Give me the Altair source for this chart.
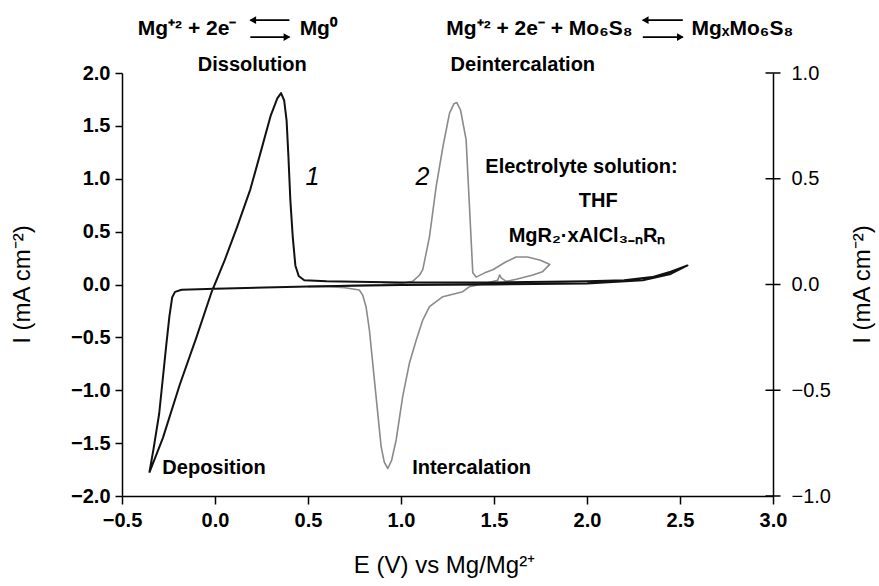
import altair as alt
import pandas as pd

# ---- Curve 1: Mg deposition / dissolution (black) ----
c1_E = [-0.353, -0.28, -0.19, -0.10, -0.02, 0.05, 0.12, 0.19, 0.25, 0.30, 0.335, 0.355,
        0.372, 0.385, 0.395, 0.405, 0.418, 0.432, 0.45, 0.48, 0.6, 1.0, 1.5, 2.0, 2.2,
        2.35, 2.45, 2.54, 2.45, 2.3, 2.0, 1.5, 1.0, 0.5, 0.0, -0.18, -0.215, -0.23,
        -0.245, -0.263, -0.30, -0.33, -0.353]
c1_I = [-1.78, -1.45, -0.95, -0.50, -0.08, 0.22, 0.55, 0.90, 1.28, 1.60, 1.76, 1.81,
        1.74, 1.55, 1.20, 0.80, 0.45, 0.18, 0.08, 0.04, 0.03, 0.02, 0.02, 0.03, 0.04,
        0.07, 0.12, 0.18, 0.10, 0.04, 0.01, 0.0, -0.005, -0.02, -0.04, -0.05, -0.07, -0.12,
        -0.30, -0.59, -1.22, -1.55, -1.78]

# ---- Curve 2: Mo6S8 intercalation / deintercalation (grey) ----
c2_E = [0.50, 0.70, 0.90, 1.00, 1.063, 1.10, 1.117, 1.153, 1.189, 1.225, 1.261, 1.285,
        1.30, 1.32, 1.35, 1.368, 1.386, 1.404, 1.45, 1.494, 1.56, 1.619, 1.68, 1.75, 1.80,
        1.76, 1.709, 1.62, 1.566, 1.54, 1.53, 1.52, 1.45, 1.368, 1.332, 1.225, 1.153,
        1.117, 1.082, 1.045, 1.009, 0.974, 0.95, 0.929, 0.91, 0.893, 0.866, 0.848, 0.83,
        0.812, 0.794, 0.776, 0.70, 0.615, 0.50]
c2_I = [-0.02, -0.01, 0.0, 0.01, 0.03, 0.09, 0.14, 0.45, 0.925, 1.30, 1.62, 1.71,
        1.72, 1.65, 1.37, 0.74, 0.11, 0.07, 0.11, 0.14, 0.21, 0.26, 0.26, 0.23, 0.19,
        0.12, 0.09, 0.05, 0.03, 0.06, 0.09, 0.04, 0.01, -0.02, -0.068, -0.115, -0.21,
        -0.336, -0.525, -0.745, -1.06, -1.47, -1.66, -1.74, -1.68, -1.53, -1.06, -0.745, -0.43,
        -0.21, -0.10, -0.052, -0.03, -0.02, -0.02]

x_ticks = [-0.5, 0.0, 0.5, 1.0, 1.5, 2.0, 2.5, 3.0]
y_ticks = [-2.0, -1.5, -1.0, -0.5, 0.0, 0.5, 1.0, 1.5, 2.0]
y2_ticks = [-1.0, -0.5, 0.0, 0.5, 1.0]

# reaction equations: left parts (right-aligned), right parts (left-aligned)
eq_left_text = ["Mg⁺² + 2e⁻", "Mg⁺² + 2e⁻ + Mo₆S₈"]
eq_left_E = [0.115, 2.245]
eq_right_text = ["Mg⁰", "MgₓMo₆S₈"]
eq_right_E = [0.455, 2.562]
eq_I = [2.416, 2.416]
# equilibrium arrows: shafts (from, to, level) and heads
arrow_E1 = [0.19, 0.19, 2.30, 2.30]
arrow_E2 = [0.40, 0.40, 2.515, 2.515]
arrow_I = [2.50, 2.34, 2.50, 2.34]
head_E = [0.203, 0.387, 2.313, 2.502]
head_shape = ["triangle-left", "triangle-right", "triangle-left", "triangle-right"]

# annotations (centered, bold)
ann_c_text = ["Dissolution", "Deintercalation", "Electrolyte solution:", "THF",
              "MgR₂·xAlCl₃₋ₙRₙ"]
ann_c_E = [0.20, 1.655, 1.97, 2.06, 2.0]
ann_c_I = [2.076, 2.076, 1.11, 0.79, 0.46]
# annotations (left aligned, bold)
ann_l_text = ["Deposition", "Intercalation"]
ann_l_E = [-0.283, 1.06]
ann_l_I = [-1.735, -1.735]
# curve numbers (italic)
num_text = ["1", "2"]
num_E = [0.524, 1.115]
num_I = [1.017, 1.017]

df1 = pd.DataFrame({"E": c1_E, "I": c1_I, "idx": range(len(c1_E))})
df2 = pd.DataFrame({"E": c2_E, "I": c2_I, "idx": range(len(c2_E))})
dfc = pd.DataFrame({"E": ann_c_E, "I": ann_c_I, "t": ann_c_text})
dfl = pd.DataFrame({"E": ann_l_E, "I": ann_l_I, "t": ann_l_text})
dfn = pd.DataFrame({"E": num_E, "I": num_I, "t": num_text})
dfeql = pd.DataFrame({"E": eq_left_E, "I": eq_I, "t": eq_left_text})
dfeqr = pd.DataFrame({"E": eq_right_E, "I": eq_I, "t": eq_right_text})
dfarr = pd.DataFrame({"E1": arrow_E1, "E2": arrow_E2, "I": arrow_I,
                      "H": head_E, "shape": head_shape})
dfr = pd.DataFrame({"v": y2_ticks})

FONT = "Liberation Sans"
xscale = alt.Scale(domain=[-0.5, 3.0], nice=False, zero=False)
yscale = alt.Scale(domain=[-2.0, 2.0], nice=False, zero=False)
y2scale = alt.Scale(domain=[-1.0, 1.0], nice=False, zero=False)

common = dict(grid=False, format=".1f", labelFont=FONT, titleFont=FONT,
              domainColor="black", tickColor="black", domainWidth=1.5, tickWidth=1.5,
              labelColor="black", titleColor="black", labelFlush=False,
              titleFontWeight="normal", titleAlign="center", titleBaseline="middle")

x_axis = alt.Axis(values=x_ticks, tickSize=8, labelPadding=6,
                  labelFontSize=20, labelFontWeight="bold",
                  title="E (V) vs Mg/Mg²⁺", titleFontSize=24, titleX=322, titleY=69, **common)
y_axis = alt.Axis(values=y_ticks, tickSize=7, labelPadding=5,
                  labelFontSize=20, labelFontWeight="bold",
                  title="I (mA cm⁻²)", titleFontSize=24, titleX=-100, titleY=211,
                  titleAngle=270, **common)
y2_axis = alt.Axis(values=y2_ticks, orient="right", ticks=False, labelPadding=18,
                   labelFontSize=20, labelFontWeight="normal",
                   title="I (mA cm⁻²)", titleFontSize=24, titleX=89, titleY=211,
                   titleAngle=270, **common)

line1 = alt.Chart(df1).mark_line(color="#111111", strokeWidth=2, strokeJoin="round").encode(
    x=alt.X("E:Q", scale=xscale, axis=x_axis),
    y=alt.Y("I:Q", scale=yscale, axis=y_axis),
    order="idx:Q")
line2 = alt.Chart(df2).mark_line(color="#8a8a8a", strokeWidth=1.6, strokeJoin="round").encode(
    x=alt.X("E:Q", scale=xscale),
    y=alt.Y("I:Q", scale=yscale),
    order="idx:Q")


def txt(df, **kw):
    return alt.Chart(df).mark_text(font=FONT, baseline="middle", color="black", **kw).encode(
        x=alt.X("E:Q", scale=xscale), y=alt.Y("I:Q", scale=yscale), text="t:N")


txt_c = txt(dfc, fontSize=20, fontWeight="bold", align="center")
txt_l = txt(dfl, fontSize=20, fontWeight="bold", align="left")
txt_n = txt(dfn, fontSize=25, fontStyle="italic", align="center")
txt_eql = txt(dfeql, fontSize=21, fontWeight="bold", align="right")
txt_eqr = txt(dfeqr, fontSize=21, fontWeight="bold", align="left")

shafts = alt.Chart(dfarr).mark_rule(color="black", strokeWidth=1.8).encode(
    x=alt.X("E1:Q", scale=xscale), x2="E2:Q", y=alt.Y("I:Q", scale=yscale))
heads = alt.Chart(dfarr).mark_point(filled=True, color="black", opacity=1, size=60).encode(
    x=alt.X("H:Q", scale=xscale), y=alt.Y("I:Q", scale=yscale),
    shape=alt.Shape("shape:N", scale=alt.Scale(domain=["triangle-left", "triangle-right"],
                                               range=["triangle-left", "triangle-right"]),
                    legend=None))

left = alt.layer(line2, line1, txt_c, txt_l, txt_n, txt_eql, txt_eqr, shafts, heads)

right = alt.Chart(dfr).mark_tick(orient="horizontal", size=15, thickness=1.5,
                                 color="black", opacity=1).encode(
    x=alt.datum(3.0, scale=xscale),
    y=alt.Y("v:Q", scale=y2scale, axis=y2_axis))

chart = alt.layer(left, right).resolve_scale(y="independent").properties(
    width=651, height=423,
    autosize=alt.AutoSizeParams(type="none"),
    padding={"left": 122, "top": 73, "right": 106, "bottom": 90},
    background="white",
).configure_view(stroke=None)

chart.save("out.html", embed_options={"renderer": "svg", "actions": False})
